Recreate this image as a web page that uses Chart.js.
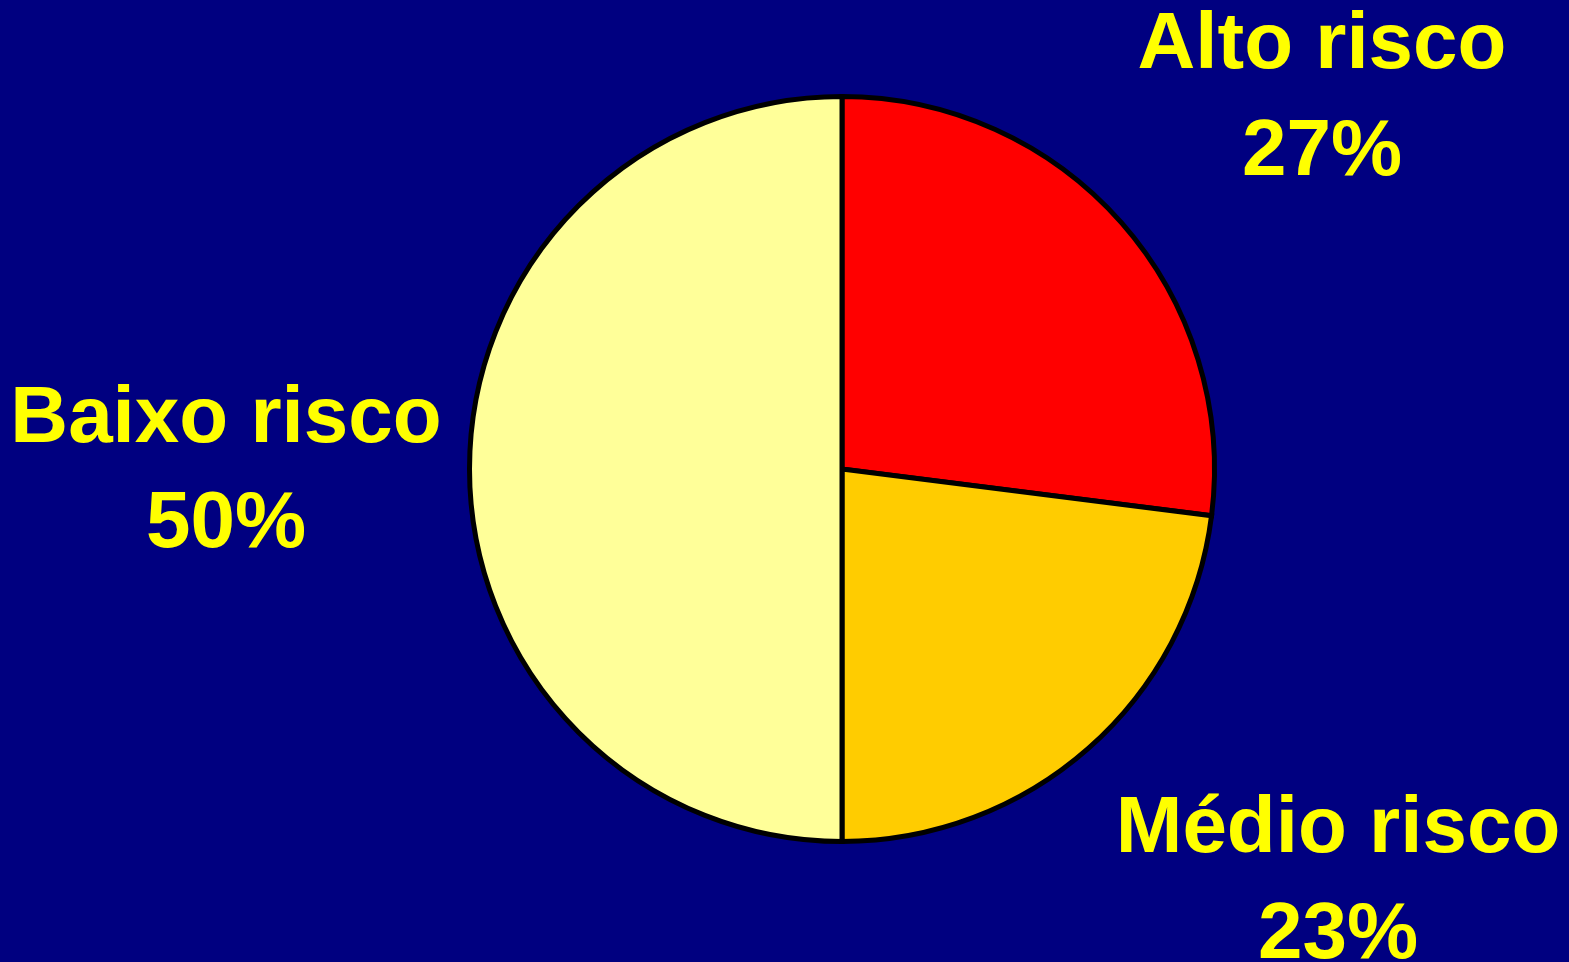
<!DOCTYPE html>
<html>
<head>
<meta charset="utf-8">
<script src="https://cdn.jsdelivr.net/npm/chart.js@4/dist/chart.umd.min.js"></script>
<style>
  html, body { margin: 0; padding: 0; background: #000080; overflow: hidden; }
  #wrap { width: 1569px; height: 962px; position: relative; }
</style>
</head>
<body>
<div id="wrap"><canvas id="c" width="1569" height="962"></canvas></div>
<script>
// Risk categories and their shares (%)
const categories = ['Alto risco', 'Médio risco', 'Baixo risco'];
const shares = [27, 23, 50];
const sliceColors = ['#FF0000', '#FFCC00', '#FFFF99'];

// Where each two-line label (name + percentage) is centred, with its baselines
const labelAnchors = [
  { x: 1322, y1: 68, y2: 175 },
  { x: 1338, y1: 852, y2: 958 },
  { x: 226, y1: 442, y2: 547 }
];

const background = {
  id: 'background',
  beforeDraw(chart) {
    const ctx = chart.ctx;
    ctx.save();
    ctx.fillStyle = '#000080';
    ctx.fillRect(0, 0, chart.width, chart.height);
    ctx.restore();
  }
};

const sliceLabels = {
  id: 'sliceLabels',
  afterDraw(chart) {
    const ctx = chart.ctx;
    const values = chart.data.datasets[0].data;
    ctx.save();
    ctx.fillStyle = '#FFFF00';
    ctx.font = 'bold 80px "Liberation Sans", Arial, sans-serif';
    ctx.textAlign = 'center';
    ctx.textBaseline = 'alphabetic';
    chart.data.labels.forEach((name, i) => {
      const a = labelAnchors[i];
      ctx.fillText(name, a.x, a.y1);
      ctx.fillText(values[i] + '%', a.x, a.y2);
    });
    ctx.restore();
  }
};

new Chart(document.getElementById('c'), {
  type: 'pie',
  data: {
    labels: categories,
    datasets: [{
      data: shares,
      backgroundColor: sliceColors,
      borderColor: '#000000',
      borderWidth: 5,
      borderJoinStyle: 'miter'
    }]
  },
  options: {
    responsive: false,
    animation: false,
    layout: { padding: { left: 467, right: 352, top: 94, bottom: 118 } },
    plugins: {
      legend: { display: false },
      tooltip: { enabled: false }
    }
  },
  plugins: [background, sliceLabels]
});
</script>
</body>
</html>
